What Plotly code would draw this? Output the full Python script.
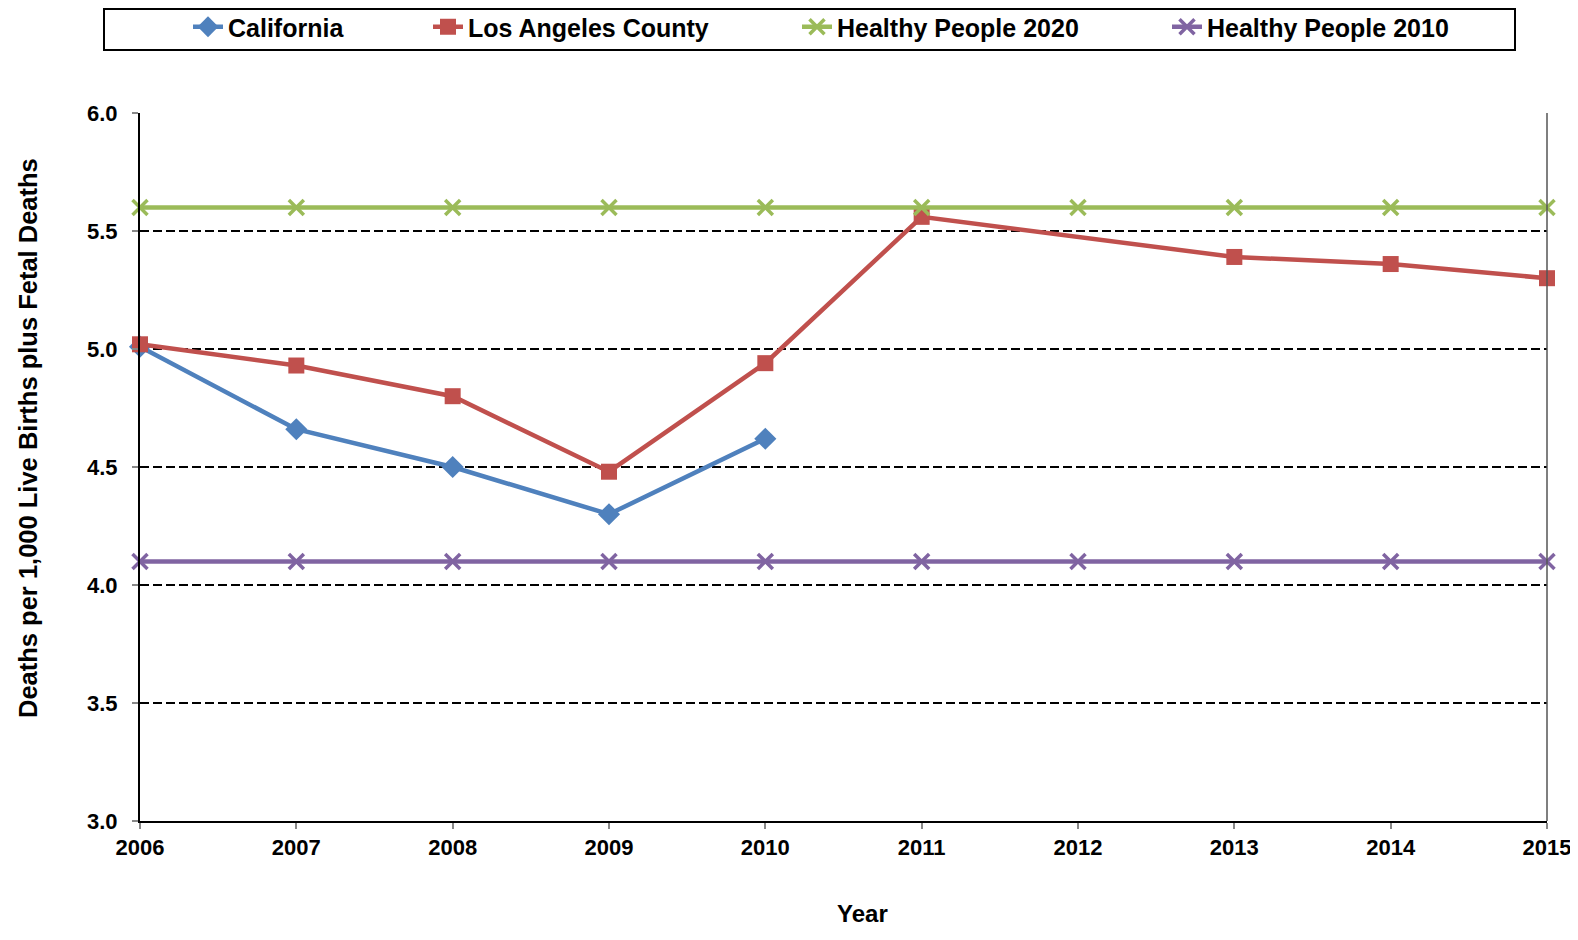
import plotly.graph_objects as go

years = [2006, 2007, 2008, 2009, 2010, 2011, 2012, 2013, 2014, 2015]
california = [5.01, 4.66, 4.50, 4.30, 4.62, None, None, None, None, None]
la_county = [5.02, 4.93, 4.80, 4.48, 4.94, 5.56, None, 5.39, 5.36, 5.30]
hp2020 = [5.6] * 10
hp2010 = [4.1] * 10
y_ticks = [3.0, 3.5, 4.0, 4.5, 5.0, 5.5, 6.0]

FONT = "Arial, 'Liberation Sans', sans-serif"
OFF = 8  # default page body margin
W, H = 1562, 924
ML, MR, MT = 140 - OFF, W + OFF - 1547, 113 - OFF
MB = H - (821 - OFF)
PW, PH = W - ML - MR, H - MT - MB

# legend text start positions (page px) for each entry
legend_text_px = [230, 470, 839, 1209]


def px_to_paper_x(px):
    return (px - OFF - ML) / PW


def px_to_paper_y(py):
    return (H - MB - (py - OFF)) / PH


fig = go.Figure()
fig.add_trace(go.Scatter(x=years, y=california, name="California", mode="lines+markers",
                         line=dict(color="#4F81BD", width=4.5),
                         marker=dict(symbol="diamond", size=17, color="#4F81BD"),
                         cliponaxis=False, legend="legend"))
fig.add_trace(go.Scatter(x=years, y=la_county, name="Los Angeles County", mode="lines+markers",
                         connectgaps=True,
                         line=dict(color="#C0504D", width=4.5),
                         marker=dict(symbol="square", size=16, color="#C0504D"),
                         cliponaxis=False, legend="legend2"))
fig.add_trace(go.Scatter(x=years, y=hp2020, name="Healthy People 2020", mode="lines+markers",
                         line=dict(color="#9BBB59", width=4.5),
                         marker=dict(symbol="x-thin", size=15, color="#9BBB59",
                                     line=dict(color="#9BBB59", width=3.5)),
                         cliponaxis=False, legend="legend3"))
fig.add_trace(go.Scatter(x=years, y=hp2010, name="Healthy People 2010", mode="lines+markers",
                         line=dict(color="#8064A2", width=4.5),
                         marker=dict(symbol="x-thin", size=15, color="#8064A2",
                                     line=dict(color="#8064A2", width=3.5)),
                         cliponaxis=False, legend="legend4"))


def leg(px):
    return dict(orientation="h", xref="container", yref="container",
                x=(px - OFF - 42) / W, xanchor="left", y=1 - (27 - OFF) / H, yanchor="middle",
                borderwidth=0, bgcolor="rgba(0,0,0,0)", visible=True,
                font=dict(size=25, family=FONT, weight="bold", color="black"))


fig.update_layout(
    width=W, height=H,
    showlegend=True,
    paper_bgcolor="white", plot_bgcolor="white",
    margin=dict(l=ML, r=MR, t=MT, b=MB),
    font=dict(family=FONT, color="black", size=22, weight="bold"),
    legend=leg(legend_text_px[0]),
    legend2=leg(legend_text_px[1]),
    legend3=leg(legend_text_px[2]),
    legend4=leg(legend_text_px[3]),
    xaxis=dict(
        range=[2006, 2015], tickmode="array", tickvals=years, ticktext=[str(y) for y in years],
        showgrid=False, showline=True, linecolor="black", linewidth=2,
        ticks="outside", ticklen=6, tickcolor="#888888", tickwidth=1.5,
        ticklabeloverflow="allow",
        tickfont=dict(size=22, family=FONT, weight="bold"),
        zeroline=False, automargin=False,
    ),
    yaxis=dict(
        range=[3, 6], tickmode="array", tickvals=y_ticks,
        ticktext=[f"{v:.1f}" for v in y_ticks],
        showgrid=True, gridcolor="black", griddash="9px,4px", gridwidth=2,
        showline=True, linecolor="black", linewidth=2,
        ticks="outside", ticklen=6, tickcolor="#888888", tickwidth=1.5,
        ticklabelstandoff=10,
        tickfont=dict(size=22, family=FONT, weight="bold"),
        zeroline=False, automargin=False,
    ),
    annotations=[
        dict(text="Year", xref="paper", yref="paper",
             x=px_to_paper_x(862), y=px_to_paper_y(913), xanchor="center", yanchor="middle",
             borderpad=0,
             showarrow=False, font=dict(size=24, family=FONT, weight="bold", color="black")),
        dict(text="Deaths per 1,000 Live Births plus Fetal Deaths", xref="paper", yref="paper",
             x=px_to_paper_x(28), y=px_to_paper_y(438), xanchor="center", yanchor="middle",
             textangle=-90, showarrow=False,
             font=dict(size=25.5, family=FONT, weight="bold", color="black")),
    ],
    shapes=[
        dict(type="line", xref="paper", yref="paper", x0=1, x1=1, y0=0, y1=1,
             line=dict(color="#555555", width=1.5)),
        dict(type="rect", xref="paper", yref="paper",
             x0=px_to_paper_x(104), x1=px_to_paper_x(1515),
             y0=px_to_paper_y(50), y1=px_to_paper_y(9),
             line=dict(color="black", width=2), fillcolor="rgba(0,0,0,0)"),
    ],
)

fig.write_html("out.html")
